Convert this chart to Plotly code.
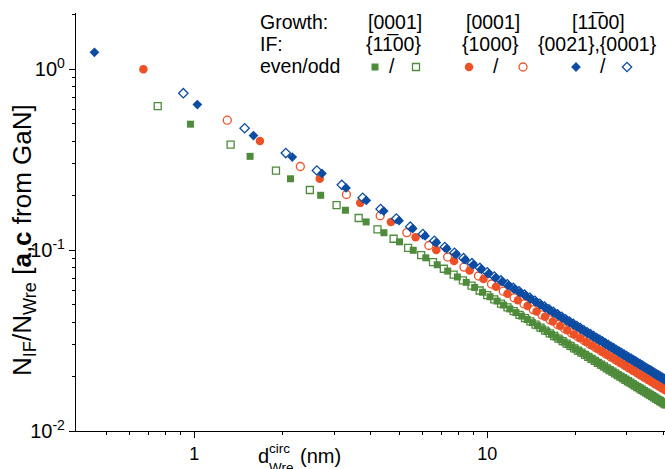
import plotly.graph_objects as go

# ---------------------------------------------------------------------------
# N_IF / N_Wre versus circumscribed wire diameter (nm), lattice a,c from GaN
# ---------------------------------------------------------------------------

# [0001] growth, {1-100} interfaces -- odd (open squares)
green_odd_d = [0.75, 1.33, 1.90, 2.48, 3.06, 3.64, 4.22, 4.79, 5.37, 5.95, 6.53, 7.11, 7.68, 8.26,
               8.84, 9.42, 10.00, 10.57, 11.15, 11.73, 12.31, 12.89, 13.46, 14.04, 14.62, 15.20,
               15.78, 16.35, 16.93, 17.51, 18.09, 18.67, 19.24, 19.82, 20.40, 20.98, 21.56, 22.13,
               22.71, 23.29, 23.87, 24.45, 25.02, 25.60, 26.18, 26.76, 27.34, 27.91, 28.49, 29.07,
               29.65, 30.23, 30.80, 31.38, 31.96, 32.54, 33.12, 33.69, 34.27, 34.85, 35.43, 36.01,
               36.58, 37.16, 37.74, 38.32, 38.90, 39.47, 40.05, 40.63]
green_odd_r = [0.625, 0.383, 0.275, 0.215, 0.1775, 0.1505, 0.1302, 0.1156, 0.1030, 0.0939, 0.0858,
               0.0789, 0.0732, 0.0681, 0.0637, 0.0598, 0.0564, 0.0534, 0.05067, 0.04819, 0.04595,
               0.04390, 0.04207, 0.04034, 0.03876, 0.03729, 0.03593, 0.03469, 0.03351, 0.03241,
               0.03138, 0.03041, 0.02952, 0.02866, 0.02785, 0.02709, 0.02636, 0.02569, 0.02503,
               0.02441, 0.02383, 0.02326, 0.02274, 0.02222, 0.02173, 0.02127, 0.02082, 0.02039,
               0.01998, 0.01958, 0.01920, 0.01884, 0.01849, 0.01815, 0.01782, 0.01750, 0.01720,
               0.01691, 0.01662, 0.01635, 0.01608, 0.01582, 0.01558, 0.01534, 0.01510, 0.01487,
               0.01465, 0.01444, 0.01423, 0.01403]

# [0001] growth, {1-100} interfaces -- even (filled squares)
green_even_d = [0.97, 1.55, 2.13, 2.70, 3.28, 3.86, 4.44, 5.02, 5.59, 6.17, 6.75, 7.33, 7.91, 8.48,
                9.06, 9.64, 10.22, 10.80, 11.37, 11.95, 12.53, 13.11, 13.69, 14.26, 14.84, 15.42,
                16.00, 16.58, 17.15, 17.73, 18.31, 18.89, 19.47, 20.04, 20.62, 21.20, 21.78, 22.36,
                22.93, 23.51, 24.09, 24.67, 25.25, 25.82, 26.40, 26.98, 27.56, 28.14, 28.71, 29.29,
                29.87, 30.45, 31.03, 31.60, 32.18, 32.76, 33.34, 33.92, 34.49, 35.07, 35.65, 36.23,
                36.81, 37.38, 37.96, 38.54, 39.12, 39.70, 40.27, 40.85]
green_even_r = [0.497, 0.330, 0.248, 0.2010, 0.1662, 0.1432, 0.1248, 0.1111, 0.09982, 0.09065,
                0.08302, 0.07658, 0.07106, 0.06636, 0.06218, 0.05849, 0.05522, 0.05229, 0.04970,
                0.04731, 0.04515, 0.04317, 0.04137, 0.03973, 0.03819, 0.03676, 0.03544, 0.03422,
                0.03308, 0.03201, 0.03100, 0.03006, 0.02917, 0.02835, 0.02756, 0.02681, 0.02610,
                0.02542, 0.02480, 0.02419, 0.02361, 0.02306, 0.02253, 0.02204, 0.02155, 0.02109,
                0.02065, 0.02023, 0.01983, 0.01944, 0.01906, 0.01870, 0.01835, 0.01802, 0.01770,
                0.01739, 0.01708, 0.01680, 0.01652, 0.01625, 0.01598, 0.01573, 0.01548, 0.01525,
                0.01501, 0.01479, 0.01457, 0.01436, 0.01416, 0.01396]

# [0001] growth, {1000} interfaces -- odd (open circles)
red_odd_d = [1.296, 2.301, 3.306, 4.311, 5.316, 6.321, 7.326, 8.331, 9.336, 10.341, 11.346, 12.351,
             13.356, 14.361, 15.366, 16.371, 17.376, 18.381, 19.386, 20.391, 21.396, 22.401,
             23.406, 24.411, 25.416, 26.421, 27.426, 28.431, 29.436, 30.441, 31.446, 32.451,
             33.456, 34.461, 35.466, 36.471, 37.476, 38.481, 39.486, 40.491]
red_odd_r = [0.523, 0.290, 0.2030, 0.1550, 0.1250, 0.10608, 0.09158, 0.08058, 0.07195, 0.06499,
             0.05927, 0.05448, 0.05041, 0.04691, 0.04387, 0.04120, 0.03884, 0.03674, 0.03486,
             0.03316, 0.03162, 0.03022, 0.02894, 0.02776, 0.02668, 0.02568, 0.02475, 0.02389,
             0.02309, 0.02234, 0.02164, 0.02098, 0.02036, 0.01978, 0.01923, 0.01871, 0.01822,
             0.01776, 0.01732, 0.01690]

# [0001] growth, {1000} interfaces -- even (filled circles)
red_even_d = [0.670, 1.675, 2.680, 3.685, 4.690, 5.695, 6.700, 7.705, 8.710, 9.715, 10.720, 11.725,
              12.730, 13.735, 14.740, 15.745, 16.750, 17.755, 18.760, 19.765, 20.770, 21.775,
              22.780, 23.785, 24.790, 25.795, 26.800, 27.805, 28.810, 29.815, 30.820, 31.825,
              32.830, 33.835, 34.840, 35.845, 36.850, 37.855, 38.860, 39.865, 40.870]
red_even_r = [1.000, 0.401, 0.248, 0.1825, 0.1430, 0.11770, 0.10010, 0.08710, 0.07710, 0.06916,
              0.06271, 0.05737, 0.05288, 0.04904, 0.04572, 0.04283, 0.04028, 0.03802, 0.03601,
              0.03420, 0.03256, 0.03108, 0.02972, 0.02848, 0.02735, 0.02630, 0.02532, 0.02442,
              0.02359, 0.02280, 0.02207, 0.02139, 0.02075, 0.02014, 0.01957, 0.01903, 0.01853,
              0.01805, 0.01759, 0.01716, 0.01674]

# [1-100] growth, {0021},{0001} interfaces -- odd (open diamonds)
blue_odd_d = [0.917, 1.485, 2.053, 2.621, 3.189, 3.757, 4.325, 4.893, 5.461, 6.029, 6.597, 7.165,
              7.733, 8.301, 8.869, 9.437, 10.005, 10.573, 11.141, 11.709, 12.277, 12.845, 13.413,
              13.981, 14.549, 15.117, 15.685, 16.253, 16.821, 17.389, 17.957, 18.525, 19.093,
              19.661, 20.229, 20.797, 21.365, 21.933, 22.501, 23.069, 23.637, 24.205, 24.773,
              25.341, 25.909, 26.477, 27.045, 27.613, 28.181, 28.749, 29.317, 29.885, 30.453,
              31.021, 31.589, 32.157, 32.725, 33.293, 33.861, 34.429, 34.997, 35.565, 36.133,
              36.701, 37.269, 37.837, 38.405, 38.973, 39.541, 40.109, 40.677]
blue_odd_r = [0.737, 0.472, 0.344, 0.2755, 0.2295, 0.1948, 0.1688, 0.1495, 0.13487, 0.12271,
              0.11258, 0.10401, 0.09666, 0.09029, 0.08471, 0.07978, 0.07540, 0.07148, 0.06796,
              0.06475, 0.06185, 0.05920, 0.05676, 0.05452, 0.05244, 0.05053, 0.04875, 0.04709,
              0.04554, 0.04408, 0.04272, 0.04145, 0.04024, 0.03911, 0.03803, 0.03702, 0.03606,
              0.03514, 0.03428, 0.03345, 0.03266, 0.03191, 0.03120, 0.03051, 0.02986, 0.02923,
              0.02863, 0.02805, 0.02750, 0.02696, 0.02645, 0.02596, 0.02548, 0.02503, 0.02458,
              0.02416, 0.02374, 0.02335, 0.02296, 0.02259, 0.02223, 0.02188, 0.02154, 0.02121,
              0.02090, 0.02059, 0.02029, 0.02000, 0.01972, 0.01944, 0.01917]

# [1-100] growth, {0021},{0001} interfaces -- even (filled diamonds)
blue_even_d = [0.456, 1.024, 1.592, 2.160, 2.728, 3.296, 3.864, 4.432, 5.000, 5.568, 6.136, 6.704,
               7.272, 7.840, 8.408, 8.976, 9.544, 10.112, 10.680, 11.248, 11.816, 12.384, 12.952,
               13.520, 14.088, 14.656, 15.224, 15.792, 16.360, 16.928, 17.496, 18.064, 18.632,
               19.200, 19.768, 20.336, 20.904, 21.472, 22.040, 22.608, 23.176, 23.744, 24.312,
               24.880, 25.448, 26.016, 26.584, 27.152, 27.720, 28.288, 28.856, 29.424, 29.992,
               30.560, 31.128, 31.696, 32.264, 32.832, 33.400, 33.968, 34.536, 35.104, 35.672,
               36.240, 36.808, 37.376, 37.944, 38.512, 39.080, 39.648, 40.216, 40.784]
blue_even_r = [1.240, 0.638, 0.430, 0.327, 0.2655, 0.2207, 0.1882, 0.1643, 0.1455, 0.13150,
               0.11985, 0.11011, 0.10186, 0.09476, 0.08858, 0.08318, 0.07840, 0.07414, 0.07032,
               0.06688, 0.06376, 0.06093, 0.05833, 0.05595, 0.05376, 0.05173, 0.04986, 0.04811,
               0.04648, 0.04496, 0.04354, 0.04221, 0.04095, 0.03977, 0.03865, 0.03759, 0.03660,
               0.03565, 0.03475, 0.03390, 0.03309, 0.03231, 0.03157, 0.03086, 0.03019, 0.02954,
               0.02893, 0.02833, 0.02776, 0.02722, 0.02669, 0.02619, 0.02570, 0.02523, 0.02478,
               0.02434, 0.02392, 0.02352, 0.02312, 0.02274, 0.02238, 0.02202, 0.02168, 0.02134,
               0.02102, 0.02070, 0.02040, 0.02010, 0.01982, 0.01954, 0.01927, 0.01900]

# Column headers of the key
growth_labels = ["[0001]", "[0001]", "[11\u030500]"]
if_labels = ["{11\u030500}", "{1000}", "{0021},{0001}"]

x_ticks = [1, 10]
x_ticktext = ["1", "10"]
y_ticks = [0.01, 0.1, 1]
y_ticktext = ["10<sup>-2</sup>", "10<sup>-1</sup>", "10<sup>0</sup>"]

GREEN = "#4E8B3B"
RED = "#EE5126"
BLUE = "#0C4CA2"
FONT = "Liberation Sans, Arial, sans-serif"

W, H = 665, 469
ML, MR, MT, MB = 76, 0, 13, 38
PW, PH = W - ML - MR, H - MT - MB


def px(x):
    return (x - ML) / PW


def py(y):
    return (H - MB - y) / PH


fig = go.Figure()

series = [
    (green_odd_d, green_odd_r, "square", 7, GREEN, True),
    (green_even_d, green_even_r, "square", 7, GREEN, False),
    (red_odd_d, red_odd_r, "circle", 8, RED, True),
    (red_even_d, red_even_r, "circle", 8.5, RED, False),
    (blue_odd_d, blue_odd_r, "diamond", 7.2, BLUE, True),
    (blue_even_d, blue_even_r, "diamond", 7.5, BLUE, False),
]
for d, r, sym, size, col, hollow in series:
    fig.add_trace(go.Scatter(
        x=d, y=r, mode="markers", showlegend=False,
        marker=dict(symbol=sym, size=size,
                    color="white" if hollow else col,
                    line=dict(color=col, width=1.3 if hollow else 0)),
    ))

# key swatches drawn on a hidden overlay axis (fractional coordinates)
swatch_x = [px(375), px(416), px(469), px(523), px(576), px(627)]
swatch_sym = ["square", "square", "circle", "circle", "diamond", "diamond"]
swatch_size = [7, 7, 8.5, 8, 7.5, 7.2]
swatch_col = [GREEN, GREEN, RED, RED, BLUE, BLUE]
swatch_hollow = [False, True, False, True, False, True]
for sx, sym, sz, col, hol in zip(swatch_x, swatch_sym, swatch_size, swatch_col, swatch_hollow):
    fig.add_trace(go.Scatter(
        x=[sx], y=[py(67)], xaxis="x2", yaxis="y2", mode="markers", showlegend=False,
        marker=dict(symbol=sym, size=sz, color="white" if hol else col,
                    line=dict(color=col, width=1.3 if hol else 0)),
    ))

ann = []


def text(x, y, s, size=20, xanchor="left", **kw):
    ann.append(dict(x=x, y=y, xref="paper", yref="paper", text=s, showarrow=False,
                    xanchor=xanchor, yanchor="middle", borderpad=0,
                    font=dict(size=size, color="black", family=FONT), **kw))


KEY = 19.5
text(px(259), py(22), "Growth:", KEY)
text(px(259), py(44), "IF:", KEY)
text(px(259), py(66), "even/odd", KEY)
for cx, g in zip([395, 493, 598], growth_labels):
    text(px(cx), py(22), g, KEY, xanchor="center")
for cx, f in zip([393, 490, 597], if_labels):
    text(px(cx), py(44), f, KEY, xanchor="center")
for cx in [392, 496, 603]:
    text(px(cx), py(66), "/", KEY, xanchor="center")

# axis titles
text(px(23), py(240), "N<sub>IF</sub>/N<sub>Wre</sub> [<b>a</b>,<b>c</b> from GaN]", 26,
     xanchor="center", textangle=-90)
text(px(257), py(456), "d", 20)
text(px(268), py(449), "circ", 13.5)
text(px(268), py(467), "Wre", 13.5)
text(px(299), py(456), "(nm)", 20)

axis_common = dict(
    type="log", showgrid=False, zeroline=False, showline=True, linecolor="black", linewidth=1.3,
    ticks="outside", ticklen=6, tickwidth=1.2, tickcolor="black", mirror=False,
)

fig.update_layout(
    width=W, height=H,
    margin=dict(l=ML, r=MR, t=MT, b=MB, pad=0),
    paper_bgcolor="white", plot_bgcolor="white",
    font=dict(family=FONT, color="black"),
    xaxis=dict(range=[-0.404, 1.607], tickmode="array", tickvals=x_ticks, ticktext=x_ticktext,
               tickfont=dict(size=18, color="black", family=FONT),
               minor=dict(tickmode="array",
                          tickvals=[0.5, 0.6, 0.7, 0.8, 0.9, 2, 3, 4, 5, 6, 7, 8, 9, 20, 30, 40],
                          ticks="outside", ticklen=3, tickwidth=1, tickcolor="black"),
               **axis_common),
    yaxis=dict(range=[-2, 0.311], tickmode="array", tickvals=y_ticks, ticktext=y_ticktext,
               tickfont=dict(size=20, color="black", family=FONT),
               minor=dict(tickmode="array",
                          tickvals=[0.02, 0.03, 0.04, 0.05, 0.06, 0.07, 0.08, 0.09,
                                    0.2, 0.3, 0.4, 0.5, 0.6, 0.7, 0.8, 0.9, 2],
                          ticks="outside", ticklen=3, tickwidth=1, tickcolor="black"),
               **axis_common),
    xaxis2=dict(overlaying="x", range=[0, 1], visible=False, anchor="y2"),
    yaxis2=dict(overlaying="y", range=[0, 1], visible=False, anchor="x2"),
    annotations=ann,
)

fig.write_html("out.html")
